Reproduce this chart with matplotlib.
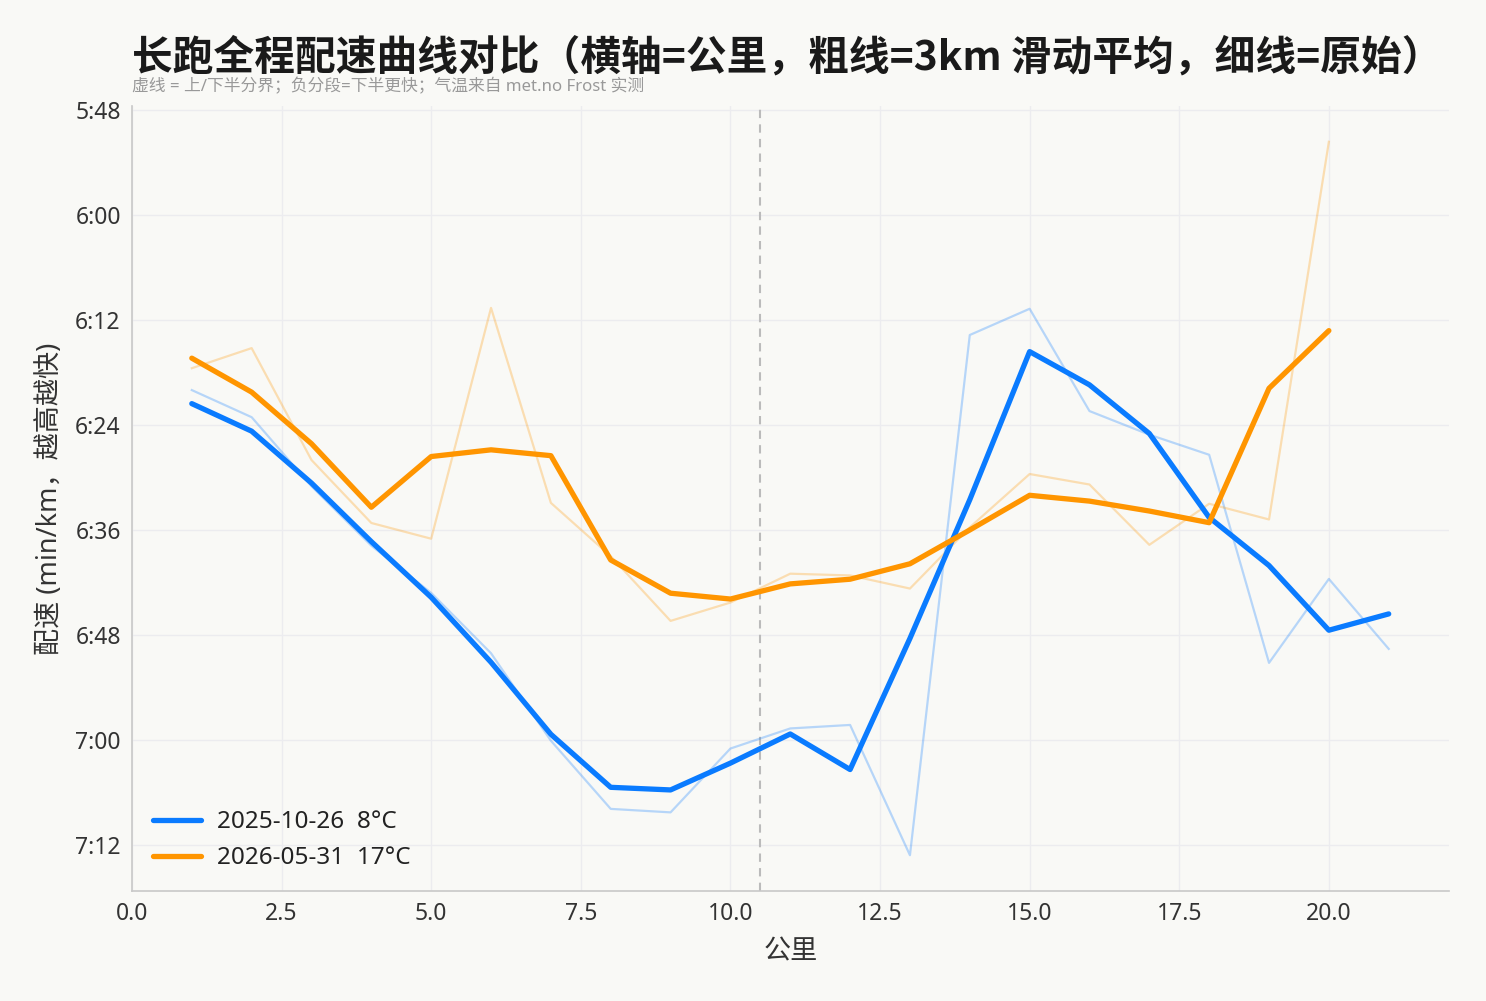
import numpy as np
import pandas as pd
import matplotlib
matplotlib.use("Agg")
import matplotlib.pyplot as plt
from matplotlib.ticker import FuncFormatter, MultipleLocator

plt.rcParams['font.family'] = ['Noto Sans', 'Noto Sans CJK SC', 'DejaVu Sans']

# pace per km in seconds
km_a = list(range(1, 22))
pace_a = [380.0, 383.1, 391.0, 397.8, 403.2, 410.1, 420.1, 427.9, 428.3, 421.0,
          418.7, 418.3, 433.2, 373.7, 370.7, 382.4, 385.1, 387.4, 411.2, 401.6, 409.6]
km_b = list(range(1, 21))
pace_b = [377.5, 375.2, 388.0, 395.2, 397.0, 370.6, 392.9, 399.0, 406.4, 404.3,
          401.0, 401.2, 402.7, 395.7, 389.6, 390.8, 397.7, 393.0, 394.8, 351.6]
labels = ["2025-10-26  8°C", "2026-05-31  17°C"]
colors = ["#0A7BFF", "#FF9500"]
half_km = 10.5

title = "长跑全程配速曲线对比（横轴=公里，粗线=3km 滑动平均，细线=原始）"
subtitle = "虚线 = 上/下半分界；负分段=下半更快；气温来自 met.no Frost 实测"

bg = "#F9F9F6"
fig = plt.figure(figsize=(14.86, 10.01), dpi=100, facecolor=bg)
ax = fig.add_axes([0.0888, 0.110, 0.886, 0.784], facecolor=bg)

for km, pace, lab, c in [(km_a, pace_a, labels[0], colors[0]), (km_b, pace_b, labels[1], colors[1])]:
    s = pd.Series(pace, index=km)
    smooth = s.rolling(3, center=True, min_periods=1).mean()
    ax.plot(km, pace, color=c, lw=1.6, alpha=0.28, zorder=2)
    ax.plot(km, smooth.values, color=c, lw=3.8, label=lab, zorder=3, solid_capstyle='round')

ax.axvline(half_km, color="#BBBBBB", lw=1.5, ls=(0, (4, 3)), zorder=1)

ax.invert_yaxis()
ax.yaxis.set_major_locator(MultipleLocator(12))
ax.yaxis.set_major_formatter(FuncFormatter(lambda v, p: f"{int(v)//60}:{int(v)%60:02d}"))
ax.set_xlim(0, 22)

ax.grid(True, color="#ECECEF", lw=1.0)
ax.set_axisbelow(True)
for sp in ["top", "right"]:
    ax.spines[sp].set_visible(False)
for sp in ["left", "bottom"]:
    ax.spines[sp].set_color("#C8C8C8")
    ax.spines[sp].set_linewidth(1.2)
ax.tick_params(axis='both', labelsize=16.5, colors="#333333", length=0, pad=8)
ax.tick_params(axis='both', labelcolor="#333333")

ax.set_xlabel("公里", fontsize=19.5, color="#333333", labelpad=9)
ax.set_ylabel("配速 (min/km，越高越快)", fontsize=19.5, color="#333333", labelpad=8)

fig.text(0.0888, 0.942, title, fontsize=29.3, fontweight='bold', color="#1A1A1A", ha='left', va='center',
         family=['Noto Sans CJK SC', 'DejaVu Sans'])
fig.text(0.0888, 0.913, subtitle, fontsize=12.1, color="#999999", ha='left', va='center')

leg = ax.legend(loc='lower left', frameon=False, fontsize=17.5, handlelength=2.0, handletextpad=0.65,
                borderaxespad=0.45, labelspacing=0.5)
for t in leg.get_texts():
    t.set_color("#222222")

fig.savefig("out.png", dpi=100, facecolor=bg)
